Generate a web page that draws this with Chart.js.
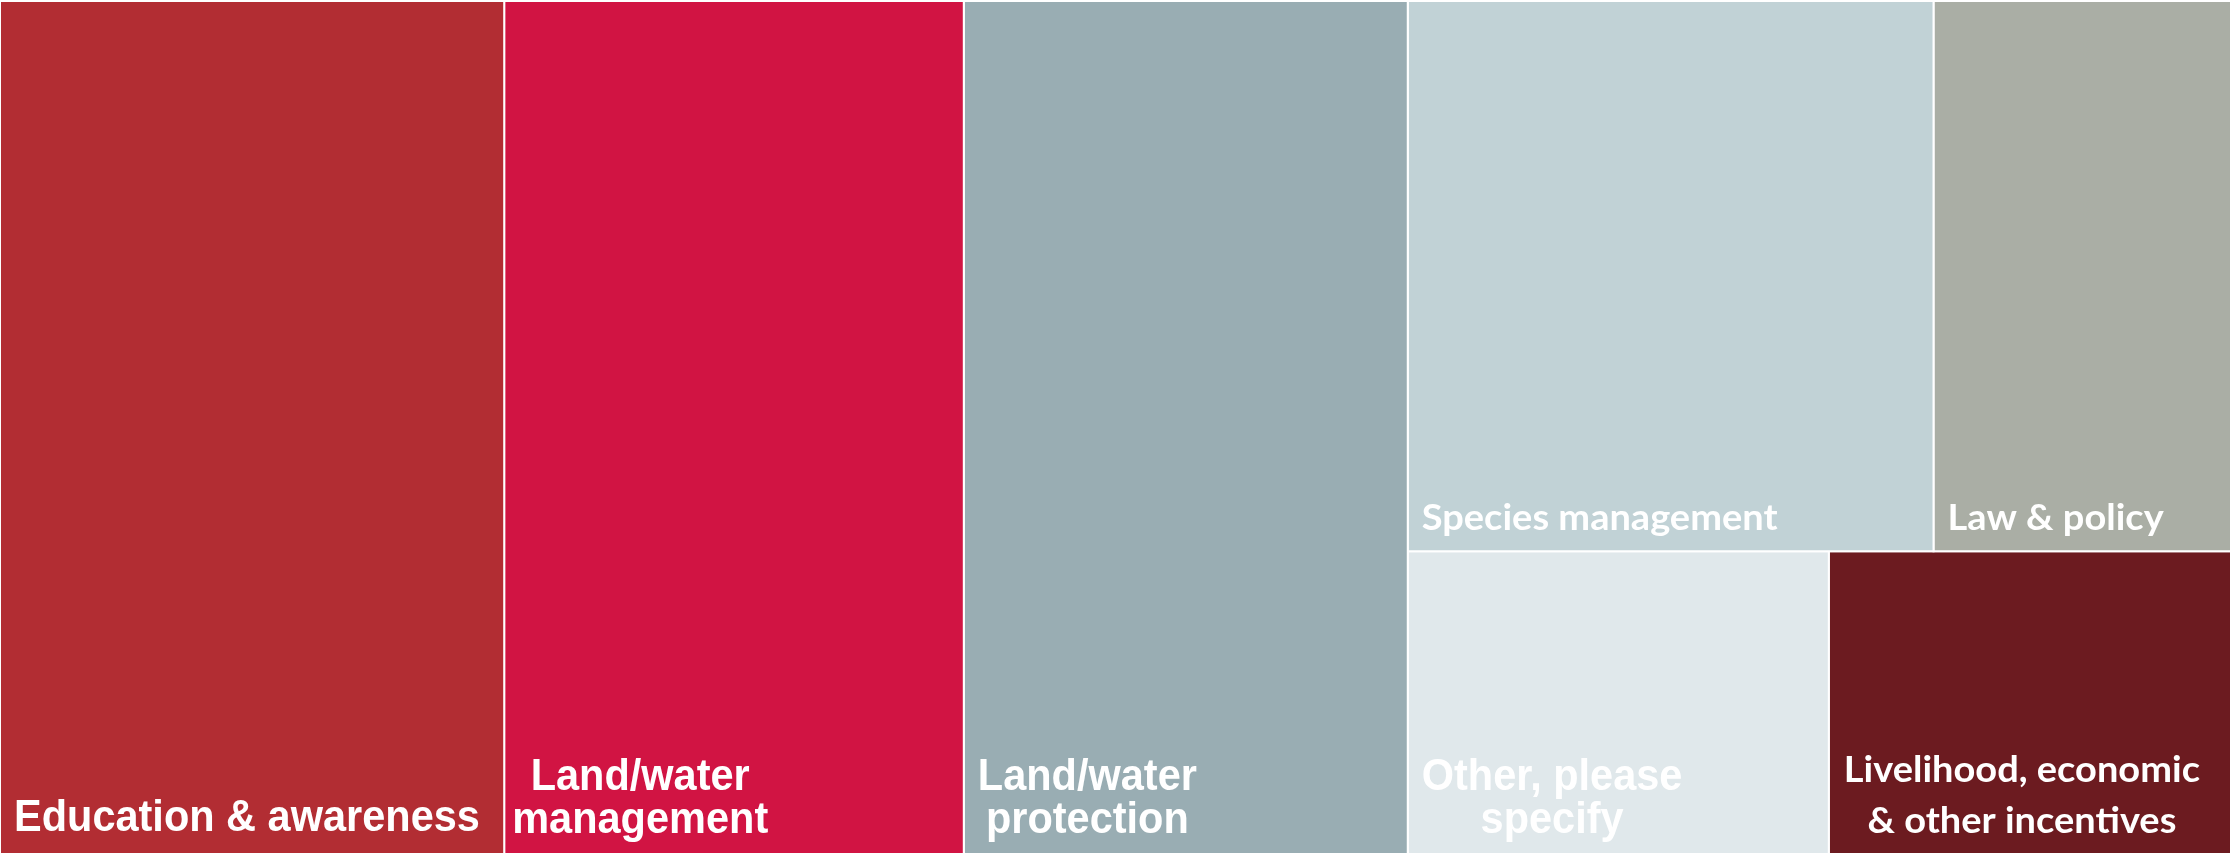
<!DOCTYPE html>
<html>
<head>
<meta charset="utf-8">
<script src="https://cdn.jsdelivr.net/npm/chart.js@4.4.1/dist/chart.umd.min.js"></script>
<style>
  html, body { margin: 0; padding: 0; background: #ffffff; }
  #wrap { width: 2233px; height: 854px; }
</style>
</head>
<body>
<div id="wrap"><canvas id="c" width="2233" height="854"></canvas></div>
<script>
// ---- data ----
const categories = [
  'Education & awareness',
  'Land/water management',
  'Land/water protection',
  'Species management',
  'Law & policy',
  'Other, please specify',
  'Livelihood, economic & other incentives'
];
const labelLines = [
  ['Education & awareness'],
  ['Land/water', 'management'],
  ['Land/water', 'protection'],
  ['Species management'],
  ['Law & policy'],
  ['Other, please', 'specify'],
  ['Livelihood, economic', '& other incentives']
];
// share of responses (%) read from tile areas
const values = [22.6, 20.6, 19.9, 15.2, 8.6, 6.7, 6.4];
const colors = ['#B22D33', '#D11443', '#99ADB3', '#C1D2D6', '#AAAEA5', '#E0E8EB', '#6C1B20'];

// ---- label styles (not data) ----
const ARIAL = { family: '"Liberation Sans", Arial, sans-serif', size: 41.5, sy: 1.08, lineH: 43 };
const CALI  = { family: 'Lato, "Open Sans", sans-serif', size: 38, sy: 0.95, lineH: 51 };
const labelStyle = [
  { f: ARIAL, padL: 14, padB: 23 },
  { f: ARIAL, padL: 8,  padB: 21 },
  { f: ARIAL, padL: 14, padB: 21 },
  { f: CALI,  padL: 14, padB: 21 },
  { f: CALI,  padL: 14, padB: 21 },
  { f: ARIAL, padL: 14, padB: 21 },
  { f: CALI,  padL: 15, padB: 21 }
];

// ---- squarified treemap layout in axis units ----
const PAD = { left: 0, top: 1, right: 2, bottom: 0 };
const W = 2233 - PAD.left - PAD.right;
const H = 854 - PAD.top - PAD.bottom;

function squarify(vals, W, H) {
  const total = vals.reduce((a, b) => a + b, 0);
  const items = vals.map((v, i) => ({ i, a: v / total * W * H }));
  const out = new Array(vals.length);
  let rect = { x: 0, y: 0, w: W, h: H };
  const worst = (row, side) => {
    const s = row.reduce((a, b) => a + b.a, 0);
    const mx = Math.max(...row.map(r => r.a)), mn = Math.min(...row.map(r => r.a));
    return Math.max(side * side * mx / (s * s), (s * s) / (side * side * mn));
  };
  let k = 0;
  while (k < items.length) {
    const side = Math.min(rect.w, rect.h);
    const row = [items[k]]; k++;
    while (k < items.length && worst(row.concat([items[k]]), side) <= worst(row, side)) { row.push(items[k]); k++; }
    const s = row.reduce((a, b) => a + b.a, 0);
    if (rect.w >= rect.h) {
      const cw = s / rect.h; let yy = rect.y;
      row.forEach(it => { const hh = it.a / cw; out[it.i] = { x0: rect.x, x1: rect.x + cw, y0: yy, y1: yy + hh }; yy += hh; });
      rect = { x: rect.x + cw, y: rect.y, w: rect.w - cw, h: rect.h };
    } else {
      const rh = s / rect.w; let xx = rect.x;
      row.forEach(it => { const ww = it.a / rh; out[it.i] = { x0: xx, x1: xx + ww, y0: rect.y, y1: rect.y + rh }; xx += ww; });
      rect = { x: rect.x, y: rect.y + rh, w: rect.w, h: rect.h - rh };
    }
  }
  return out;
}
const tiles = squarify(values, W, H);

const datasets = tiles.map((t, i) => ({
  label: categories[i],
  data: [
    { x: t.x0, y: t.y0 }, { x: t.x1, y: t.y0 }, { x: t.x1, y: t.y1 },
    { x: t.x0, y: t.y1 }, { x: t.x0, y: t.y0 }
  ],
  showLine: true,
  fill: 'shape',
  backgroundColor: colors[i],
  borderColor: '#ffffff',
  borderWidth: 2,
  borderJoinStyle: 'miter',
  pointRadius: 0,
  pointHoverRadius: 0,
  tension: 0
}));

const labelPlugin = {
  id: 'tileLabels',
  afterDatasetsDraw(chart) {
    const ctx = chart.ctx, xs = chart.scales.x, ys = chart.scales.y;
    tiles.forEach((t, i) => {
      const st = labelStyle[i], f = st.f;
      const left = xs.getPixelForValue(t.x0);
      const bottom = ys.getPixelForValue(t.y1);
      ctx.save();
      ctx.font = 'bold ' + f.size + 'px ' + f.family;
      ctx.fillStyle = '#ffffff';
      ctx.textBaseline = 'alphabetic';
      ctx.textAlign = 'left';
      const lines = labelLines[i];
      const widths = lines.map(l => ctx.measureText(l).width);
      const bw = Math.max(...widths);
      lines.forEach((l, j) => {
        const base = bottom - st.padB - (lines.length - 1 - j) * f.lineH;
        const x = left + st.padL + (bw - widths[j]) / 2;
        ctx.save();
        ctx.translate(x, base);
        ctx.scale(1, f.sy);
        ctx.fillText(l, 0, 0);
        ctx.restore();
      });
      ctx.restore();
    });
  }
};

new Chart(document.getElementById('c'), {
  type: 'scatter',
  data: { datasets },
  options: {
    responsive: false,
    devicePixelRatio: 1,
    animation: false,
    layout: { padding: PAD },
    plugins: { legend: { display: false }, tooltip: { enabled: false }, title: { display: false } },
    scales: {
      x: { type: 'linear', min: 0, max: W, display: false },
      y: { type: 'linear', min: 0, max: H, reverse: true, display: false }
    }
  },
  plugins: [labelPlugin]
});
</script>
</body>
</html>
